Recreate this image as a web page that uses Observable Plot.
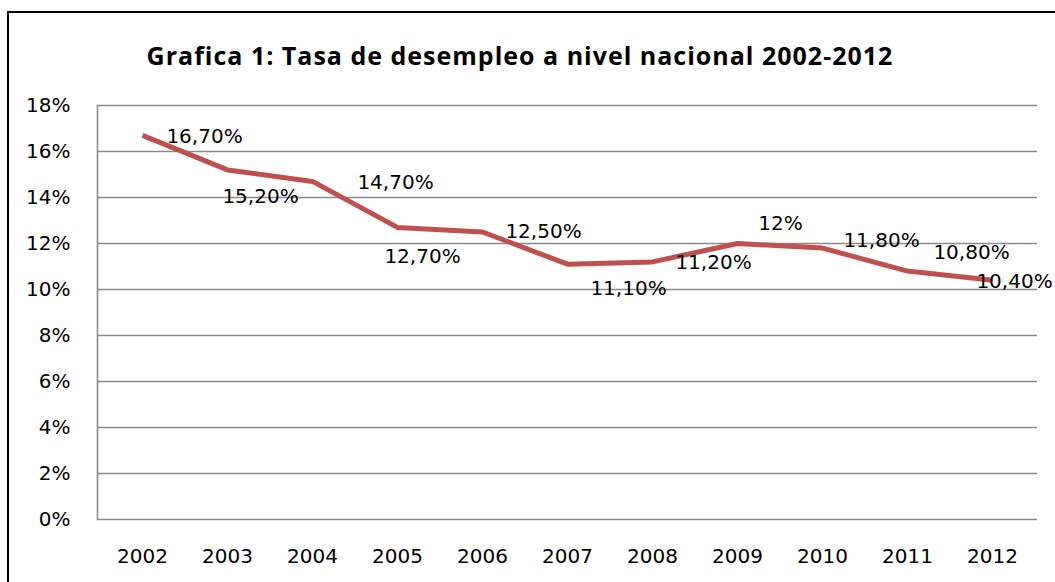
<!DOCTYPE html>
<html>
<head>
<meta charset="utf-8">
<script src="https://cdn.jsdelivr.net/npm/d3@7"></script>
<script src="https://cdn.jsdelivr.net/npm/@observablehq/plot@0.6"></script>
<style>
  html, body { margin: 0; padding: 0; background: #fff; }
  #wrap { position: relative; width: 1055px; height: 582px; overflow: hidden; background: #fff; }
  #border { position: absolute; left: 7px; top: 11px; right: -10px; bottom: -10px;
            border-left: 2px solid #000; border-top: 2px solid #000; pointer-events: none; }
  #title { position: absolute; left: 0; width: 1040px; top: 40px; text-align: center;
           font-family: "Open Sans", sans-serif; font-weight: bold; font-size: 25px; letter-spacing: 1px;
           line-height: 30px; color: #000; }
  #chart { position: absolute; left: 0; top: 0; }
</style>
</head>
<body>
<div id="wrap">
  <div id="chart"></div>
  <div id="title">Grafica 1: Tasa de desempleo a nivel nacional 2002-2012</div>
  <div id="border"></div>
</div>
<script>
const years = ["2002","2003","2004","2005","2006","2007","2008","2009","2010","2011","2012"];
const rates = [0.167, 0.152, 0.147, 0.127, 0.125, 0.111, 0.112, 0.12, 0.118, 0.108, 0.104];
const labels = ["16,70%","15,20%","14,70%","12,70%","12,50%","11,10%","11,20%","12%","11,80%","10,80%","10,40%"];
const yTicks = [0, 0.02, 0.04, 0.06, 0.08, 0.10, 0.12, 0.14, 0.16, 0.18];
// label placement offsets (pixels) relative to each point
const labelDx = [62, 33, 83, 25, 61, 61, 61, 43, 59, 64, 22];
const labelDy = [1, 27, 1, 29, 0, 24, 1, -20, -8, -19, 1];

const data = years.map((y, i) => ({year: y, rate: rates[i], label: labels[i]}));

const chart = Plot.plot({
  width: 1055,
  height: 582,
  marginLeft: 97,
  marginRight: 18,
  marginTop: 105,
  marginBottom: 63,
  style: {fontFamily: "DejaVu Sans", fontSize: "20px", color: "#000", background: "transparent"},
  x: {type: "point", domain: years, padding: 0.5, label: null},
  y: {domain: [0, 0.18], label: null},
  marks: [
    Plot.ruleY(yTicks, {stroke: "#8a8a8a", strokeWidth: 1.6}),
    Plot.frame({anchor: "left", stroke: "#8a8a8a", strokeWidth: 1.6}),
    Plot.axisY({ticks: yTicks, tickFormat: d => Math.round(d * 100) + "%", tickSize: 0, tickPadding: 27, fontSize: 20, label: null}),
    Plot.axisX({tickSize: 0, tickPadding: 29, fontSize: 20, label: null}),
    Plot.line(data, {x: "year", y: "rate", stroke: "#C0504D", strokeWidth: 5, strokeLinejoin: "round", strokeLinecap: "butt"}),
    ...data.map((d, i) => Plot.text([d], {x: "year", y: "rate", text: "label", dx: labelDx[i], dy: labelDy[i], fontSize: 20, fill: "#000"}))
  ]
});
document.getElementById("chart").appendChild(chart);
</script>
</body>
</html>
